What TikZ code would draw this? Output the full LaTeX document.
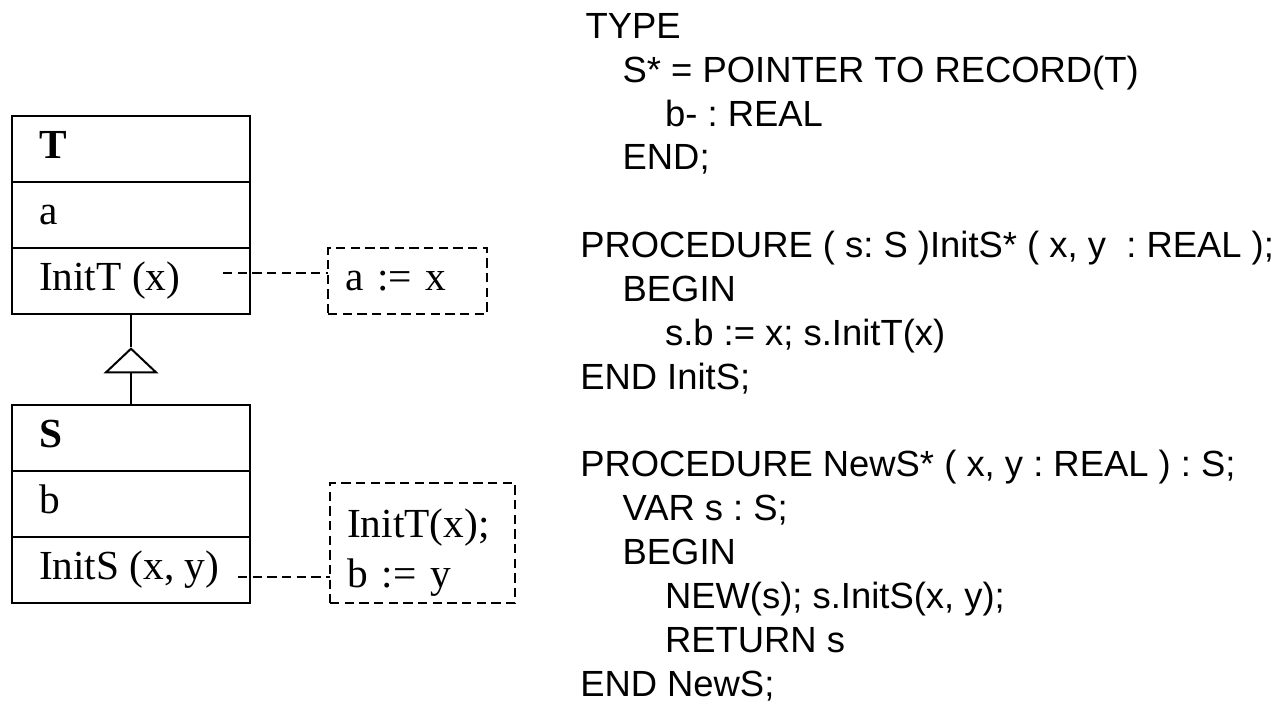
\documentclass[tikz,border=0pt]{standalone}
\usepackage{fontspec}
\newfontfamily\umlfont{Liberation Serif}
\newfontfamily\codefont{Liberation Sans}
\usetikzlibrary{positioning, arrows.meta}
\frenchspacing

\newcommand{\slot}[1]{\makebox[138pt][l]{\vphantom{(}#1}}
\newcommand{\codeind}{\hspace*{31.8pt}}

\tikzset{
    compartment/.style={draw, line width=1.5pt, outer sep=0pt, minimum height=49.5pt,
        inner xsep=20.25pt, inner ysep=0pt, font=\umlfont\fontsize{31}{38}\selectfont},
    note/.style={draw, dash pattern=on 7pt off 4pt, line width=1.3pt, outer sep=0pt,
        inner xsep=12.75pt, align=left, font=\umlfont\fontsize{31}{38}\selectfont},
    link/.style={dash pattern=on 7pt off 4pt, line width=1.2pt},
    code/.style={align=left, inner sep=0pt, font=\codefont\fontsize{27.3}{32.9}\selectfont}
}

\begin{document}
\begin{tikzpicture}[x=0.75pt,y=0.75pt,yscale=-1,xscale=1]
    \useasboundingbox (0,0) rectangle (1288,704);

    % class T
    \node[compartment, anchor=north west] (tname) at (12,116) {\slot{\textbf{T}}};
    \node[compartment, below=0pt of tname] (tattr) {\slot{a}};
    \node[compartment, below=0pt of tattr] (tops) {\slot{InitT (x)}};

    % class S
    \node[compartment, below=68.25pt of tops] (sname) {\slot{\textbf{S}}};
    \node[compartment, below=0pt of sname] (sattr) {\slot{b}};
    \node[compartment, below=0pt of sattr] (sops) {\slot{InitS (x, y)}};

    % inheritance
    \coordinate[below=25pt of tops] (apex);
    \draw[line width=1.5pt] (tops) -- (apex);
    \draw[line width=1.5pt, -{Triangle[open, length=19.5pt, width=41pt]}] (sname) -- (apex);

    % notes
    \node[note, right=58.5pt of tops, minimum width=119.25pt, minimum height=49.5pt, text width=93.75pt] (anote) {a := x};
    \node[note, right=60pt of sops.south east, anchor=south west, minimum width=138.75pt, minimum height=90pt,
        text width=113pt] (snote) {\rule{0pt}{36pt}InitT(x);\\b := y};
    \coordinate (tlink) at (223,273);
    \draw[link] (tlink) -- (tlink -| anote.west);
    \coordinate (slink) at (238,577);
    \draw[link] (slink) -- (slink -| snote.west);

    % Text Node
    \node[code, anchor=north west] (listing) at (580,13) {%
        \hspace*{4pt}TYPE\\
        \codeind S* = POINTER TO RECORD(T)\\
        \codeind\codeind b- : REAL\\
        \codeind END;\\[32.9pt]
        PROCEDURE ( s: S )InitS* ( x, y \ : REAL );\\
        \codeind BEGIN\\
        \codeind\codeind s.b := x; s.InitT(x)\\
        END InitS;\\[32.9pt]
        PROCEDURE NewS* ( x, y : REAL ) : S;\\
        \codeind VAR s : S;\\
        \codeind BEGIN\\
        \codeind\codeind NEW(s); s.InitS(x, y);\\
        \codeind\codeind RETURN s\\
        END NewS;};
\end{tikzpicture}
\end{document}
